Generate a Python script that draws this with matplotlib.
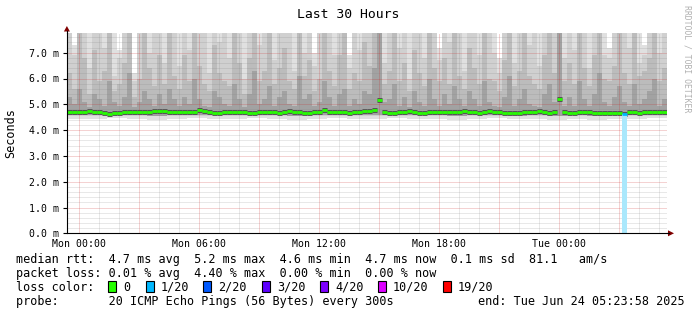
import numpy as np
import matplotlib
matplotlib.use("Agg")
import matplotlib.pyplot as plt
from matplotlib.patches import Rectangle, Polygon

# ---- data (ms), one value per 15 min column, 30 hours ----
start_hour = -0.6          # Sun 23:24 relative to Mon 00:00
step_hours = 0.25

median = [
    4.70, 4.69, 4.71, 4.72, 4.73, 4.71, 4.70, 4.66, 4.64, 4.65, 4.68, 4.70, 4.71, 4.69, 4.70, 4.72, 4.70, 4.73, 4.75, 4.74,
    4.70, 4.71, 4.69, 4.70, 4.72, 4.71, 4.78, 4.74, 4.70, 4.66, 4.67, 4.70, 4.72, 4.71, 4.69, 4.71, 4.68, 4.67, 4.69, 4.70,
    4.72, 4.70, 4.68, 4.71, 4.73, 4.70, 4.69, 4.67, 4.68, 4.70, 4.72, 4.76, 4.71, 4.70, 4.72, 4.69, 4.67, 4.70, 4.71, 4.73,
    4.75, 4.78, 5.15, 4.72, 4.68, 4.66, 4.69, 4.71, 4.73, 4.70, 4.68, 4.67, 4.69, 4.71, 4.70, 4.72, 4.71, 4.69, 4.72, 4.73,
    4.72, 4.70, 4.68, 4.70, 4.74, 4.72, 4.69, 4.67, 4.65, 4.66, 4.68, 4.70, 4.69, 4.71, 4.73, 4.70, 4.68, 4.69, 5.20, 4.70,
    4.68, 4.66, 4.69, 4.71, 4.70, 4.68, 4.66, 4.65, 4.67, 4.66, 4.68, 4.64, 4.72, 4.69, 4.67, 4.70, 4.72, 4.69, 4.71, 4.70,
]
ping_max = [
    7.8, 7.3, 7.8, 7.8, 7.8, 7.8, 7.8, 7.8, 7.8, 7.8, 7.1, 7.8, 7.8, 6.2, 7.8, 7.8, 7.8, 7.8, 7.8, 7.8,
    7.8, 7.8, 7.8, 7.8, 7.8, 7.8, 7.8, 7.8, 7.8, 7.8, 7.8, 7.8, 7.8, 7.8, 7.8, 7.8, 7.8, 7.8, 7.8, 7.8,
    7.8, 7.8, 7.8, 7.8, 7.8, 7.8, 7.8, 7.8, 7.8, 7.0, 7.8, 7.8, 7.8, 7.8, 7.8, 7.8, 6.9, 7.8, 7.8, 7.8,
    7.8, 7.8, 7.8, 7.8, 7.8, 7.8, 7.8, 7.8, 7.8, 7.8, 7.8, 7.8, 7.8, 7.8, 7.2, 7.8, 7.8, 7.8, 7.8, 7.8,
    7.8, 7.8, 7.8, 7.8, 7.8, 7.8, 6.8, 7.8, 7.8, 7.8, 7.8, 7.8, 7.8, 7.8, 7.8, 7.8, 7.8, 7.8, 7.8, 7.8,
    7.8, 7.8, 7.8, 7.8, 7.8, 7.8, 7.8, 7.8, 7.2, 7.8, 7.8, 7.8, 7.8, 7.8, 7.8, 7.3, 7.8, 7.8, 7.8, 7.8,
]
ping_hi2 = [
    7.8, 6.9, 7.8, 7.8, 6.4, 7.8, 7.8, 7.2, 7.8, 6.1, 6.8, 7.8, 7.8, 5.9, 7.8, 7.8, 7.0, 7.8, 7.8, 6.6,
    7.8, 7.8, 6.5, 7.8, 7.1, 7.8, 7.8, 7.8, 6.2, 7.8, 7.4, 7.8, 6.8, 7.8, 7.8, 6.0, 7.8, 7.8, 7.3, 7.8,
    7.8, 6.7, 7.8, 7.8, 7.8, 6.3, 7.8, 7.0, 7.8, 6.5, 7.8, 7.8, 7.8, 6.9, 7.8, 7.8, 6.4, 7.8, 7.1, 7.8,
    7.8, 7.8, 7.8, 6.6, 7.8, 7.8, 7.2, 7.8, 6.0, 7.8, 7.8, 6.8, 7.8, 7.8, 6.7, 7.8, 7.4, 7.8, 7.8, 6.3,
    7.8, 7.8, 6.9, 7.8, 7.8, 7.0, 6.2, 7.8, 7.8, 6.6, 7.8, 7.8, 7.3, 7.8, 6.5, 7.8, 7.8, 7.8, 7.8, 6.8,
    7.8, 7.1, 7.8, 7.8, 6.4, 7.8, 7.8, 6.9, 6.8, 7.8, 7.8, 7.8, 7.2, 7.8, 6.6, 6.9, 7.8, 7.8, 7.0, 7.8,
]
ping_hi3 = [
    6.2, 5.6, 7.8, 6.8, 5.4, 7.1, 5.9, 6.3, 7.8, 5.5, 5.8, 6.6, 7.8, 5.3, 6.0, 7.8, 6.4, 5.7, 6.9, 5.8,
    7.8, 6.1, 5.6, 6.9, 5.9, 7.8, 6.5, 5.8, 5.5, 7.3, 6.2, 5.9, 5.7, 7.8, 6.6, 5.4, 6.8, 7.8, 5.9, 6.3,
    7.8, 5.8, 6.4, 7.2, 5.9, 5.6, 7.8, 6.1, 6.7, 5.5, 6.0, 7.8, 6.3, 5.7, 6.9, 7.8, 5.6, 6.2, 5.9, 7.4,
    6.5, 7.8, 7.8, 5.8, 6.3, 7.8, 5.9, 6.6, 5.5, 7.1, 6.2, 5.7, 7.8, 6.4, 5.9, 6.8, 5.8, 7.8, 6.1, 5.6,
    7.2, 6.4, 5.8, 7.8, 6.0, 5.9, 5.5, 6.7, 7.8, 5.7, 6.3, 7.8, 6.1, 5.8, 5.6, 6.9, 7.8, 6.2, 7.8, 5.9,
    6.6, 5.8, 7.8, 6.4, 5.7, 6.9, 7.8, 6.0, 5.9, 6.5, 7.8, 6.2, 5.8, 7.8, 6.1, 6.3, 6.8, 7.8, 5.9, 6.4,
]
ping_hi4 = [
    5.3, 5.0, 5.6, 5.1, 4.90, 5.4, 5.2, 4.95, 5.9, 5.1, 4.95, 5.3, 6.2, 4.90, 5.1, 5.5, 5.2, 4.95, 5.4, 5.0,
    5.6, 5.2, 4.95, 5.3, 5.0, 6.0, 5.2, 4.95, 4.90, 5.5, 5.3, 5.0, 4.95, 5.8, 5.2, 4.90, 5.4, 6.3, 5.0, 5.2,
    5.7, 4.95, 5.3, 5.5, 5.0, 4.95, 6.1, 5.2, 5.4, 4.95, 5.1, 5.9, 5.3, 4.95, 5.4, 5.6, 4.95, 5.2, 5.0, 5.5,
    5.4, 6.4, 7.8, 5.1, 5.2, 5.8, 4.95, 5.3, 4.90, 5.5, 5.1, 4.95, 6.0, 5.2, 4.95, 5.4, 5.0, 5.7, 5.2, 4.95,
    5.5, 5.2, 4.95, 5.9, 5.1, 4.95, 4.90, 5.3, 6.1, 4.95, 5.2, 5.6, 5.0, 4.95, 4.90, 5.4, 5.8, 5.1, 7.8, 4.95,
    5.3, 4.95, 5.9, 5.2, 4.95, 5.4, 6.2, 5.1, 4.95, 5.3, 5.7, 5.1, 4.95, 5.8, 5.0, 5.2, 5.5, 6.0, 4.95, 5.2,
]
# lower side, one value per hour (4 columns)
ping_min = [4.44, 4.42, 4.45, 4.43, 4.41, 4.44, 4.46, 4.43, 4.42, 4.45, 4.44, 4.41, 4.43, 4.46, 4.44,
            4.42, 4.45, 4.43, 4.44, 4.41, 4.43, 4.45, 4.42, 4.44, 4.40, 4.43, 4.41, 4.44, 4.42, 4.45]
ping_lo2 = [4.58, 4.57, 4.59, 4.58, 4.56, 4.58, 4.60, 4.57, 4.57, 4.59, 4.58, 4.56, 4.58, 4.60, 4.58,
            4.57, 4.59, 4.57, 4.58, 4.56, 4.57, 4.59, 4.56, 4.58, 4.55, 4.57, 4.56, 4.58, 4.57, 4.59]
loss_columns = [111]
loss_color = '#00b8ff'

x_labels = ["Mon 00:00", "Mon 06:00", "Mon 12:00", "Mon 18:00", "Tue 00:00"]
x_label_hours = [0, 6, 12, 18, 24]

legend_lines = [
    "median rtt:  4.7 ms avg  5.2 ms max  4.6 ms min  4.7 ms now  0.1 ms sd  81.1   am/s",
    "packet loss: 0.01 % avg  4.40 % max  0.00 % min  0.00 % now",
]
loss_names = ["0", "1/20", "2/20", "3/20", "4/20", "10/20", "19/20"]
loss_colors = ["#26ff00", "#00b8ff", "#0059ff", "#5e00ff", "#7e00ff", "#dd00ff", "#ff0000"]
probe_text = "probe:       20 ICMP Echo Pings (56 Bytes) every 300s"
end_text = "end: Tue Jun 24 05:23:58 2025"

# ---- figure ----
plt.rcParams['font.family'] = 'DejaVu Sans Mono'
W, H = 697, 315
fig = plt.figure(figsize=(W / 100, H / 100), dpi=100)
fig.patch.set_facecolor('white')


def fx(x):
    return x / W


def fy(y):
    return 1 - y / H


top_px, bot_px = 32.7, 233.3
ax = fig.add_axes([fx(66.5), fy(bot_px), 600 / W, (bot_px - top_px) / H])
ax.set_facecolor('white')

n = len(median)
t = start_hour + step_hours * np.arange(n)
edges = np.append(t, t[-1] + step_hours)


def ext(v):
    v = np.asarray(v, dtype=float)
    return np.append(v, v[-1])


lo1 = np.repeat(ping_min, 4)
lo2 = np.repeat(ping_lo2, 4)
med = np.array(median)

# smoke, outer ping pairs light, inner ones darker
ax.fill_between(edges, ext(lo1), ext(ping_max), step='post', color='#e0e0e0', lw=0, zorder=1)
ax.fill_between(edges, ext(lo2), ext(ping_hi2), step='post', color='#d0d0d0', lw=0, zorder=1.1)
ax.fill_between(edges, ext(lo2), ext(ping_hi3), step='post', color='#bcbcbc', lw=0, zorder=1.2)
ax.fill_between(edges, ext(lo2), ext(ping_hi4), step='post', color='#a2a2a2', lw=0, zorder=1.3)
# dark core around the median (segments only, like an rrd area)
ax.hlines(med, edges[:-1], edges[1:], color='#555555', lw=3.6, zorder=1.4)

for c in loss_columns:
    ax.fill_between([edges[c], edges[c + 1]], 0, med[c], color='#aae8fc', lw=0, zorder=3)

# grid over the smoke, like rrdtool
ylim_top = (bot_px - top_px) / 25.8
minor_kw = dict(color='#808080', alpha=0.35, lw=0.72, linestyle=(0, (1, 1)), zorder=2)
major_kw = dict(color='#cc2222', alpha=0.4, lw=0.72, linestyle=(0, (1, 1)), zorder=2.1)
for h in range(0, 30):
    ax.axvline(h, **(major_kw if h % 3 == 0 else minor_kw))
for i in range(1, int(ylim_top / 0.2) + 1):
    ax.axhline(i * 0.2, **(major_kw if i % 5 == 0 else minor_kw))

# median, coloured by loss
line_colors = [loss_color if k in loss_columns else loss_colors[0] for k in range(n)]
ax.hlines(med, edges[:-1], edges[1:], colors=line_colors, lw=2.0, zorder=4)

ax.set_xlim(start_hour, start_hour + 30)
ax.set_ylim(0, ylim_top)

for s in ['top', 'right']:
    ax.spines[s].set_visible(False)
for s in ['left', 'bottom']:
    ax.spines[s].set_color('black')
    ax.spines[s].set_linewidth(0.8)
    ax.spines[s].set_zorder(6)

ax.set_xticks(x_label_hours)
ax.set_xticklabels(x_labels)
ax.set_yticks(np.arange(0, 8, 1.0))
ax.set_yticklabels([f"{v:.1f} m" for v in np.arange(0, 8, 1.0)])
ax.tick_params(axis='x', length=0, pad=4, labelsize=7.1)
ax.tick_params(axis='y', length=3, width=0.8, pad=2.5, labelsize=7.1)

# axis extensions + arrows
fig.add_artist(plt.Line2D([fx(666.5), fx(669)], [fy(bot_px), fy(bot_px)], color='black', lw=0.8,
                          transform=fig.transFigure))
fig.add_artist(plt.Line2D([fx(66.9), fx(66.9)], [fy(top_px), fy(30.5)], color='black', lw=0.8,
                          transform=fig.transFigure))
fig.add_artist(Polygon([[fx(668), fy(230.3)], [fx(674), fy(bot_px)], [fx(668), fy(236.3)]],
                       closed=True, color='#800000', transform=fig.transFigure, lw=0))
fig.add_artist(Polygon([[fx(63.9), fy(31.5)], [fx(66.9), fy(26)], [fx(69.9), fy(31.5)]],
                       closed=True, color='#800000', transform=fig.transFigure, lw=0))

# texts
fig.text(fx(348.5), fy(18.5), "Last 30 Hours", ha='center', va='baseline', fontsize=9.45)
fig.text(fx(11), fy(133), "Seconds", rotation=90, ha='center', va='center', fontsize=8.5)
fig.text(fx(686.5), fy(59), "RRDTOOL / TOBI OETIKER", rotation=-90, ha='center', va='center',
         fontsize=5.9, color='#b0b0b0')

fig.text(fx(16), fy(263), legend_lines[0], ha='left', va='baseline', fontsize=8.5)
fig.text(fx(16), fy(277), legend_lines[1], ha='left', va='baseline', fontsize=8.5)
fig.text(fx(16), fy(291), "loss color:", ha='left', va='baseline', fontsize=8.5)
box_x = [108, 145.7, 203.3, 261.7, 320, 377.7, 442.7]
for bx, name, col in zip(box_x, loss_names, loss_colors):
    fig.add_artist(Rectangle((fx(bx), fy(291.5)), 8 / W, 10.5 / H, transform=fig.transFigure,
                             facecolor=col, edgecolor='black', lw=0.8))
    fig.text(fx(bx + 15), fy(291), name, ha='left', va='baseline', fontsize=8.5)
fig.text(fx(16), fy(305), probe_text, ha='left', va='baseline', fontsize=8.5)
fig.text(fx(478), fy(305), end_text, ha='left', va='baseline', fontsize=8.5)

fig.savefig("out.png", dpi=100, facecolor='white')
